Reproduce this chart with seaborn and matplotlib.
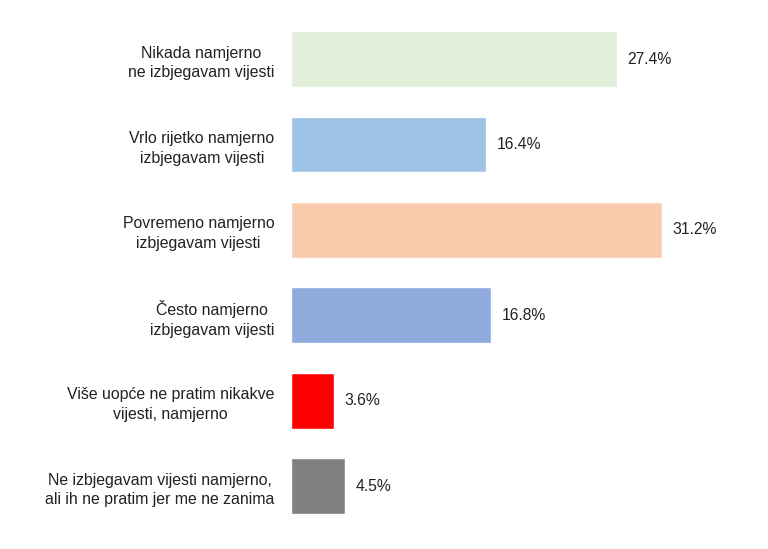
import matplotlib
matplotlib.use('Agg')
import matplotlib.pyplot as plt
import pandas as pd
import seaborn as sns

# Kategorije i postoci
kategorije = ['Nikada namjerno\nne izbjegavam vijesti',
              'Vrlo rijetko namjerno\nizbjegavam vijesti',
              'Povremeno namjerno\nizbjegavam vijesti',
              'Često namjerno\nizbjegavam vijesti',
              'Više uopće ne pratim nikakve\nvijesti, namjerno',
              'Ne izbjegavam vijesti namjerno,\nali ih ne pratim jer me ne zanima']
postoci = [27.4, 16.4, 31.2, 16.8, 3.6, 4.5]
boje = ['#E2EFDA', '#9DC3E6', '#F8CBAD', '#8FAADC', '#FF0000', '#808080']

df = pd.DataFrame({'kategorija': kategorije, 'postotak': postoci})

sns.set_style('white')
plt.rcParams['font.family'] = ['Liberation Sans', 'DejaVu Sans']

fig = plt.figure(figsize=(7.68, 5.49), dpi=100)
ax = fig.add_axes([0.379, 0.037, 0.619, 0.933])

sns.barplot(data=df, x='postotak', y='kategorija', hue='kategorija',
            palette=boje, legend=False, width=0.655, saturation=1, ax=ax)

for i, v in enumerate(postoci):
    ax.text(v + 0.9, i, f'{v:.1f}%', va='center', ha='left',
            fontsize=11.3, color='#222222')

ax.set_xlim(0, 40)
ax.set_ylim(5.5, -0.5)
ax.set_xlabel('')
ax.set_ylabel('')
ax.set_xticks([])
for lab in ax.get_yticklabels():
    lab.set_multialignment('center')
    lab.set_fontsize(11.4)
    lab.set_linespacing(1.4)
    lab.set_color('#222222')
ax.tick_params(axis='y', length=0, pad=12)
sns.despine(ax=ax, left=True, bottom=True)

plt.savefig('out.png', dpi=100)
